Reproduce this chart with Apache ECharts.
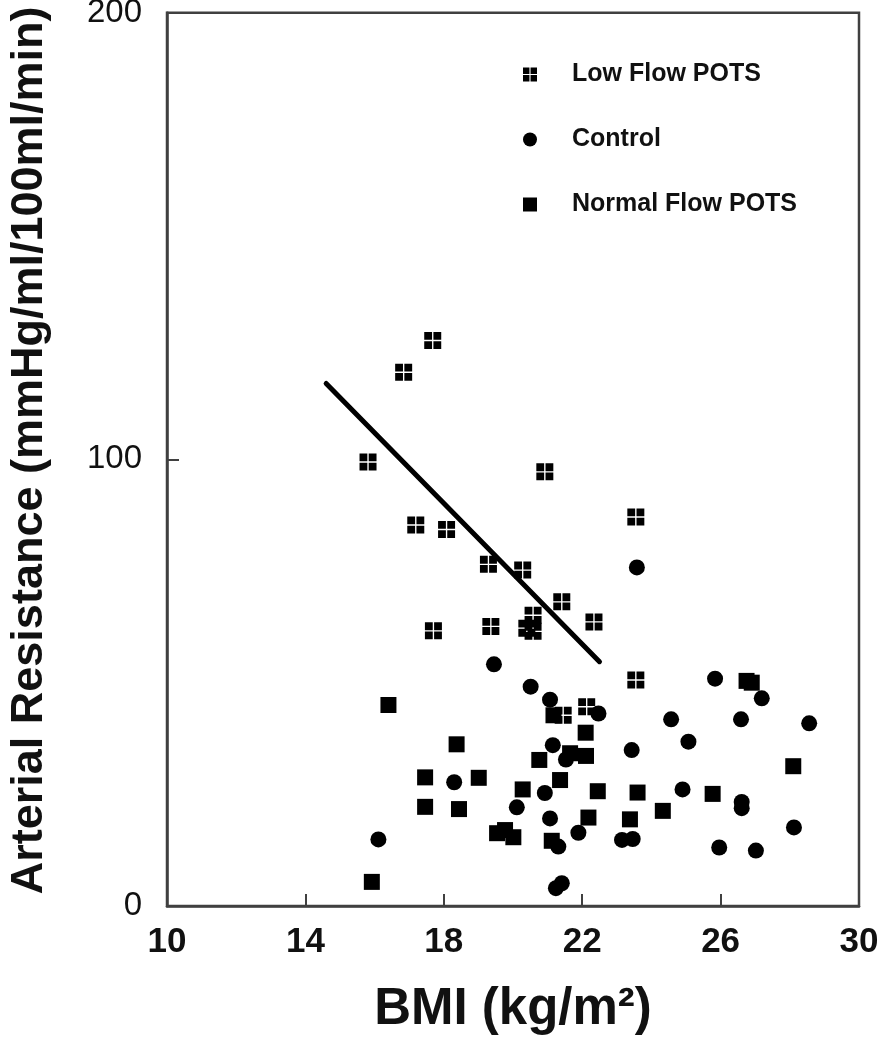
<!DOCTYPE html>
<html>
<head>
<meta charset="utf-8">
<script src="https://cdn.jsdelivr.net/npm/echarts@6/dist/echarts.min.js"></script>
<style>
html,body{margin:0;padding:0;background:#fff;}
#chart{width:878px;height:1050px;}
</style>
</head>
<body>
<div id="chart"></div>
<script>
// Low Flow POTS [BMI, resistance]
var lowFlow = [
  [17.68,126.6],[16.84,119.5],[15.81,99.4],[20.92,97.2],[17.19,85.3],[18.08,84.3],
  [23.55,87.1],[19.29,76.5],[20.28,75.2],[21.41,68.1],[17.70,61.6],[19.36,62.6],
  [20.58,65.1],[20.40,62.2],[20.58,61.5],[22.34,63.6],[23.55,50.6],[22.13,44.6],
  [21.45,42.7]
];
// Control
var control = [
  [23.58,75.8],[19.45,54.1],[20.51,49.1],[21.07,46.2],[22.47,43.1],[25.84,50.9],
  [27.19,46.5],[24.57,41.8],[26.59,41.8],[28.56,40.9],[21.15,36.0],[23.43,34.9],
  [25.07,36.8],[21.53,32.8],[18.30,27.7],[20.92,25.3],[24.90,26.1],[20.11,22.1],
  [21.07,19.6],[26.61,23.3],[26.61,21.9],[28.12,17.6],[21.89,16.4],[23.15,14.8],
  [23.46,15.0],[21.31,13.3],[16.11,14.9],[25.96,13.1],[27.02,12.4],[21.24,4.0],
  [21.41,5.1]
];
// Normal Flow POTS
var normalFlow = [
  [16.40,45.0],[21.17,42.7],[26.75,50.4],[26.90,50.0],[22.10,38.8],[18.37,36.2],
  [21.65,34.2],[22.11,33.6],[20.76,32.7],[17.46,28.8],[19.01,28.7],[21.36,28.2],
  [20.28,26.1],[22.45,25.7],[23.60,25.4],[28.10,31.3],[25.77,25.1],[24.33,21.3],
  [17.46,22.2],[18.44,21.7],[22.18,19.8],[23.38,19.4],[19.54,16.3],[19.77,17.0],
  [20.01,15.4],[21.12,14.6],[15.92,5.4]
];
// Regression line (Low Flow POTS)
var fitLine = [[14.6,117.0],[22.5,54.7]];

var seriesNames = ['Low Flow POTS','Control','Normal Flow POTS'];
var xTicks = [10,14,18,22,26,30];
var yTicks = [0,100,200];

var hatch = 'path://M0 0H9.2V9.2H0Z M10.8 0H20V9.2H10.8Z M0 10.8H9.2V20H0Z M10.8 10.8H20V20H10.8Z';
var axisCol = '#404040';
var font = 'Liberation Sans, Arial, sans-serif';

var chart = echarts.init(document.getElementById('chart'));
chart.setOption({
  animation: false,
  backgroundColor: '#fff',
  grid: {left:167, right:19, top:12.7, bottom:144, show:true, borderColor:axisCol, borderWidth:2.5, containLabel:false, outerBoundsMode:'none'},
  legend: {
    orient:'vertical', left:518, top:57, itemWidth:14, itemHeight:14, itemGap:40,
    data:[
      {name:seriesNames[0], icon:hatch},
      {name:seriesNames[1], icon:'circle'},
      {name:seriesNames[2], icon:'rect'}
    ],
    textStyle:{fontFamily:font, fontSize:25, fontWeight:'bold', color:'#111', lineHeight:25, padding:[0,0,0,30]}
  },
  xAxis: {
    type:'value', min:xTicks[0], max:xTicks[xTicks.length-1], interval:4,
    name:'BMI (kg/m²)', nameLocation:'middle', nameGap:78,
    nameTextStyle:{fontFamily:font, fontSize:51, fontWeight:'bold', color:'#111'},
    axisLine:{show:true, onZero:false, lineStyle:{color:axisCol, width:2.5}},
    axisTick:{show:true, inside:true, length:12, lineStyle:{color:axisCol, width:2}},
    axisLabel:{fontFamily:font, fontSize:35, fontWeight:'bold', color:'#111', margin:19},
    splitLine:{show:false}
  },
  yAxis: {
    type:'value', min:yTicks[0], max:yTicks[yTicks.length-1], interval:100,
    name:'Arterial Resistance (mmHg/ml/100ml/min)', nameLocation:'middle', nameGap:115,
    nameTextStyle:{fontFamily:font, fontSize:45, fontWeight:'bold', color:'#111', padding:[0,0,0,18]},
    axisLine:{show:true, onZero:false, lineStyle:{color:axisCol, width:2.5}},
    axisTick:{show:true, inside:true, length:12, lineStyle:{color:axisCol, width:2}},
    axisLabel:{fontFamily:font, fontSize:33, color:'#111', margin:25},
    splitLine:{show:false}
  },
  series: [
    {name:seriesNames[0], type:'scatter', data:lowFlow, symbol:hatch, symbolSize:17, itemStyle:{color:'#000', opacity:1}, z:3},
    {name:seriesNames[1], type:'scatter', data:control, symbol:'circle', symbolSize:16, itemStyle:{color:'#000', opacity:1}, z:3},
    {name:seriesNames[2], type:'scatter', data:normalFlow, symbol:'rect', symbolSize:16, itemStyle:{color:'#000', opacity:1}, z:3},
    {name:'fit', type:'line', data:fitLine, showSymbol:false, symbol:'none', lineStyle:{color:'#000', width:5, cap:'round'}, z:4, silent:true}
  ]
});
</script>
</body>
</html>
